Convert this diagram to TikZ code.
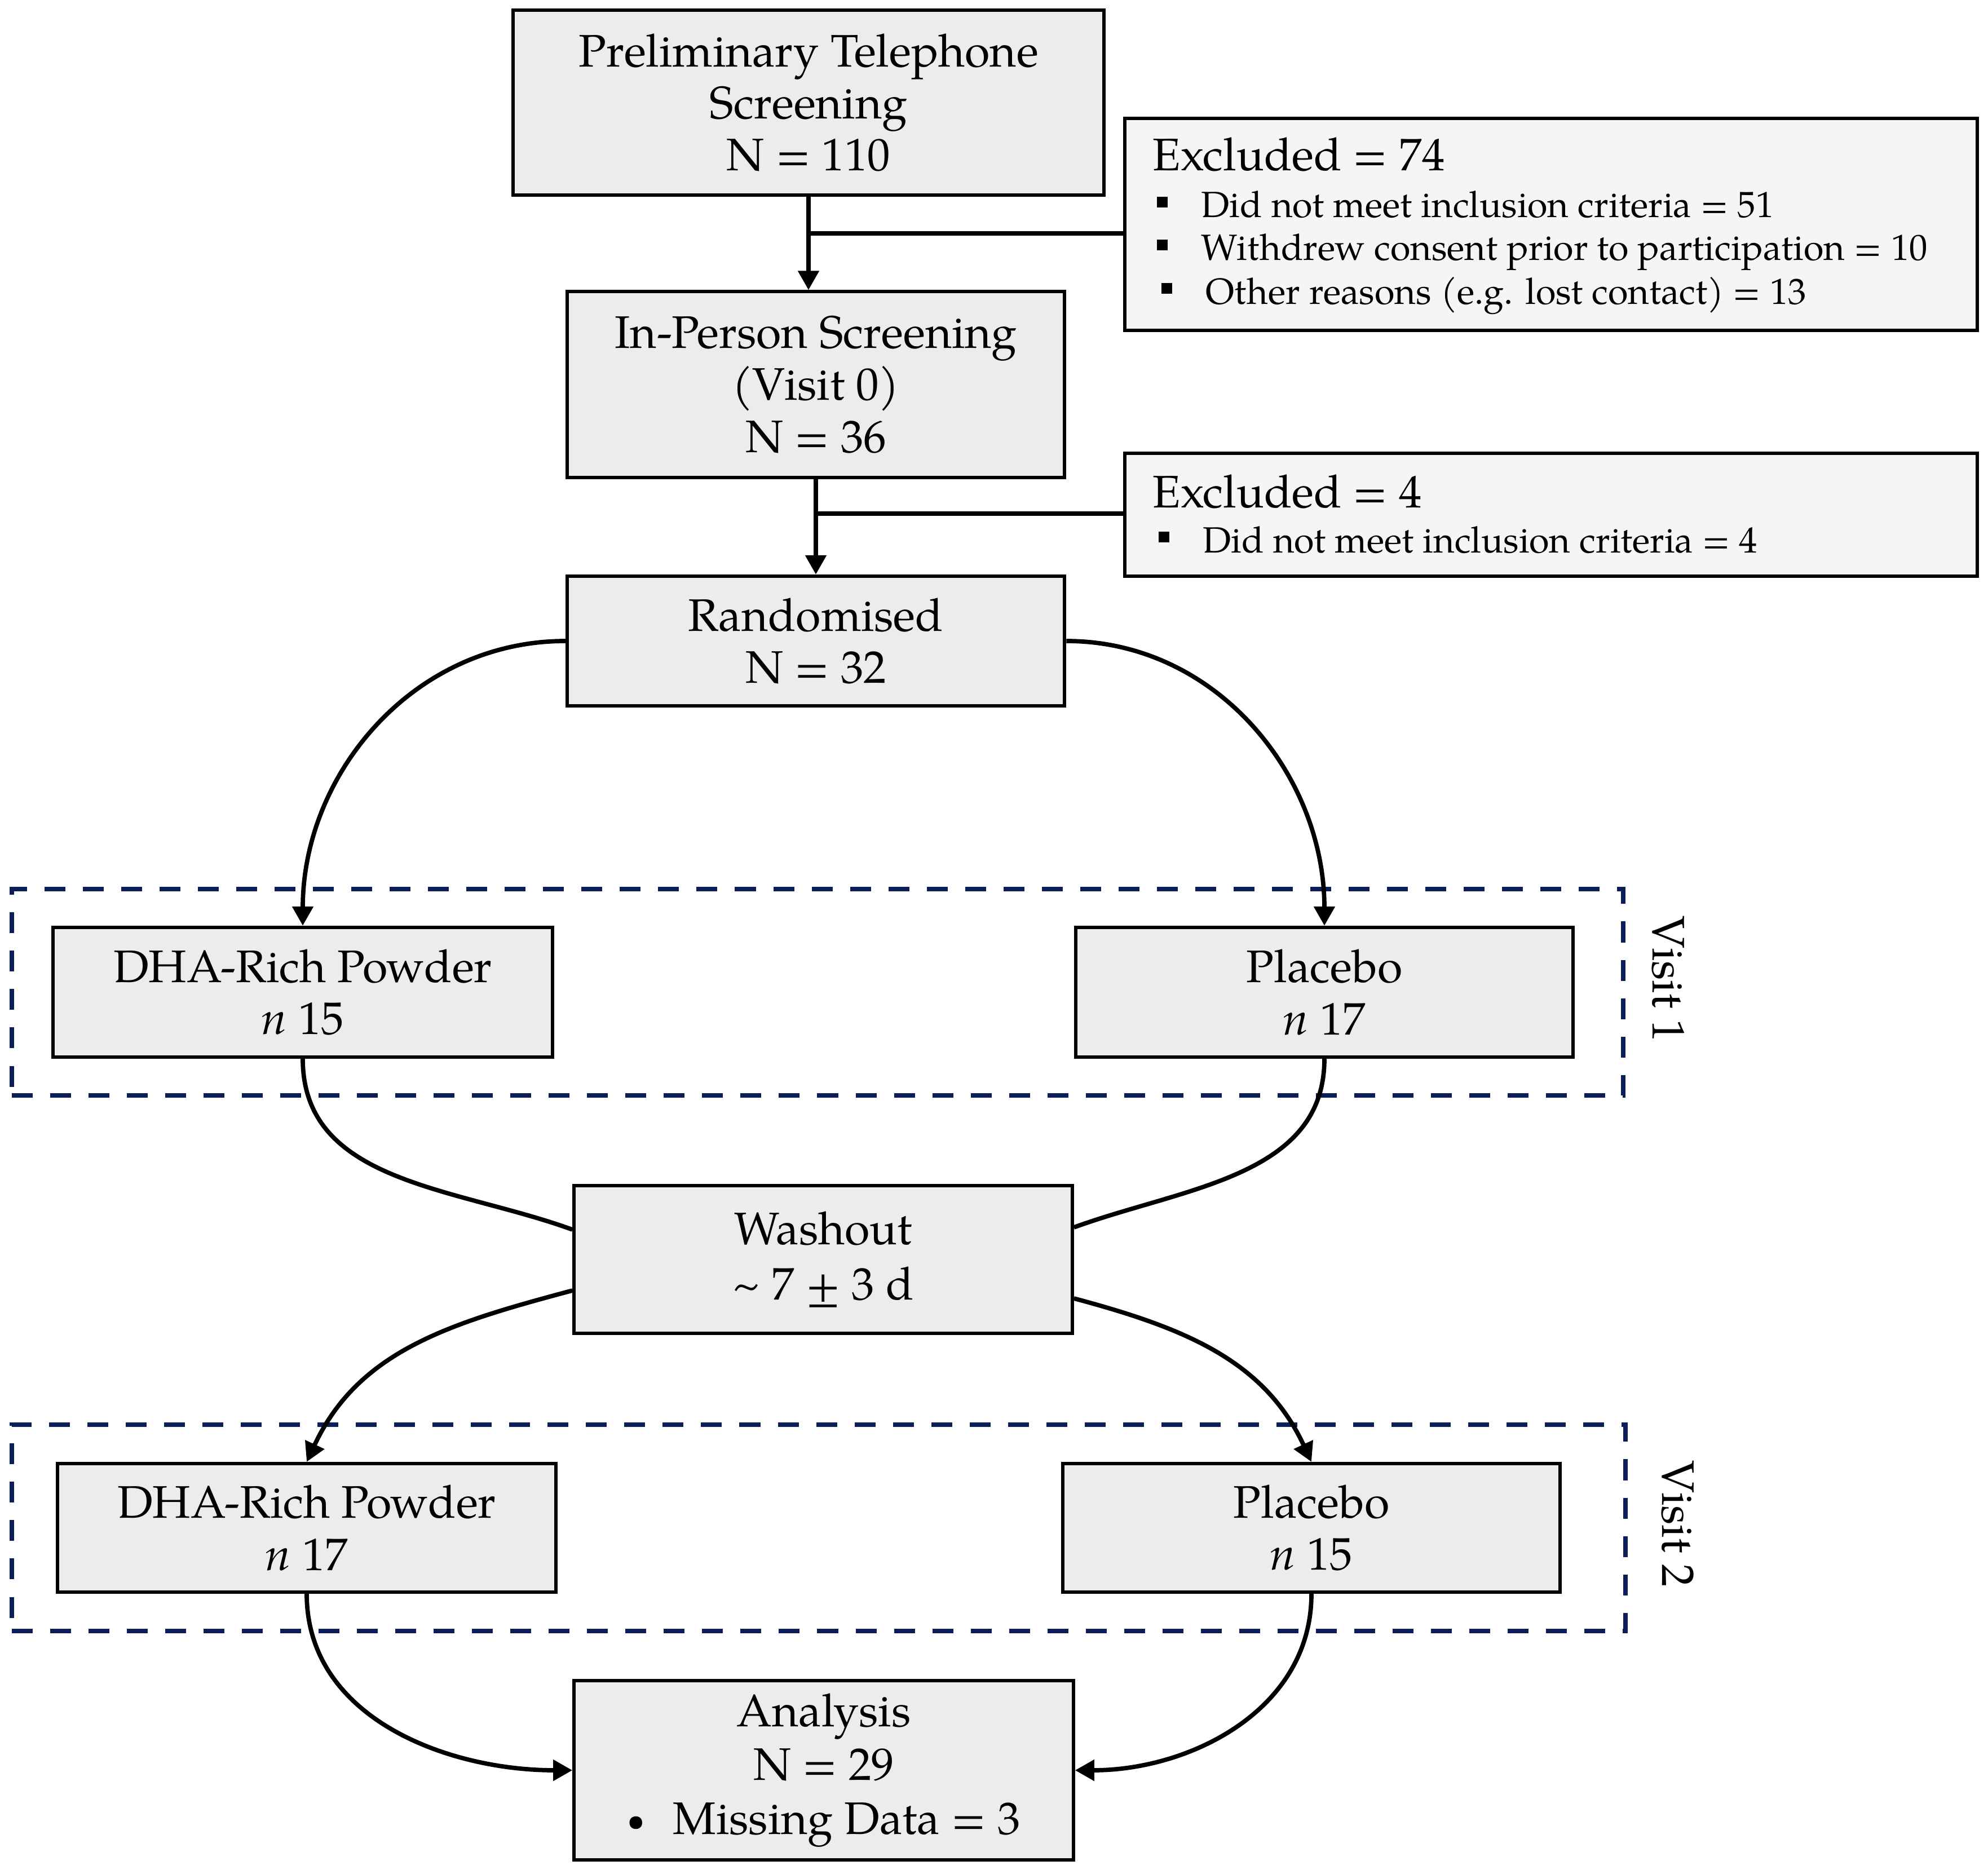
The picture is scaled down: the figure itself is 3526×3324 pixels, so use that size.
\documentclass[tikz,border=0pt]{standalone}
\usepackage{fontspec}
\setmainfont{TeX Gyre Pagella}
\usetikzlibrary{arrows.meta,calc}
\definecolor{boxgray}{RGB}{235,236,238}
\definecolor{exclgray}{RGB}{244,246,245}
\definecolor{visitblue}{RGB}{12,30,90}
\newcommand{\exsq}{\rule[0.18cm]{0.19cm}{0.19cm}\hspace{0.6cm}}
\newcommand{\smallbul}{\raisebox{0.06cm}{\fontsize{16}{16}\selectfont\textbullet}}
\begin{document}
\begin{tikzpicture}[x=0.01cm,y=0.01cm,
  mainbox/.style={draw=black, line width=1.7pt, fill=boxgray, align=center, inner sep=0pt,
    font=\fontsize{23}{26.2}\selectfont},
  exclbox/.style={draw=black, line width=1.7pt, fill=exclgray, inner sep=0pt},
  excltitle/.style={inner sep=0pt, anchor=base west, font=\fontsize{23}{26}\selectfont},
  exclitem/.style={inner sep=0pt, anchor=base west, font=\fontsize{18.4}{22}\selectfont},
  conn/.style={line width=2.2pt, draw=black},
  arr/.style={conn, -{Triangle[length=0.34cm,width=0.36cm]}},
  visitbox/.style={draw=visitblue, line width=2.3pt, dash pattern=on 0.37cm off 0.31cm, inner sep=0pt},
  visitlabel/.style={rotate=-90, inner sep=0pt, font=\fontsize{23}{26}\selectfont}
]
\useasboundingbox (0,0) rectangle (3526,-3324);

% visit frames
\node[visitbox, minimum width=28.57cm, minimum height=3.65cm] (v1) at (1450,-1760) {};
\node[visitbox, minimum width=28.61cm, minimum height=3.65cm] (v2) at (1452,-2710) {};
\node[visitlabel] (v1lab) at (2959,-1737) {Visit 1};
\node[visitlabel] (v2lab) at (2976,-2703) {Visit 2};

% main boxes
\node[mainbox, minimum width=10.47cm, minimum height=3.27cm] (screen) at (1434,-182) {Preliminary Telephone\\Screening\\N = 110};
\node[mainbox, minimum width=8.82cm, minimum height=3.29cm] (inperson) at (1447,-682) {In-Person Screening\\(Visit 0)\\N = 36};
\node[mainbox, minimum width=8.82cm, minimum height=2.30cm] (rand) at (1447,-1137) {Randomised\\N = 32};
\node[mainbox, minimum width=8.85cm, minimum height=2.30cm] (dha1) at (537,-1760) {DHA-Rich Powder\\\textit{n} 15};
\node[mainbox, minimum width=8.82cm, minimum height=2.30cm] (plac1) at (2349,-1760) {Placebo\\\textit{n} 17};
\node[mainbox, minimum width=8.83cm, minimum height=2.62cm, font=\fontsize{23}{28}\selectfont] (wash) at (1460,-2234) {Washout\\\textasciitilde\ 7 ± 3 d};
\node[mainbox, minimum width=8.84cm, minimum height=2.28cm] (dha2) at (544,-2710) {DHA-Rich Powder\\\textit{n} 17};
\node[mainbox, minimum width=8.82cm, minimum height=2.28cm] (plac2) at (2326,-2710) {Placebo\\\textit{n} 15};
\node[mainbox, minimum width=8.85cm, minimum height=3.18cm, font=\fontsize{23}{27.2}\selectfont] (anal) at (1461,-3140) {Analysis\\N = 29\\\smallbul\hspace{0.5cm}Missing Data = 3};

% excluded boxes
\node[exclbox, minimum width=15.12cm, minimum height=3.76cm] (excl1) at (2751,-398) {};
\node[excltitle] (e1t) at (2044,-303) {Excluded = 74};
\node[exclitem] (e1a) at (2051,-386) {\exsq Did not meet inclusion criteria = 51};
\node[exclitem] (e1b) at (2051,-462) {\exsq Withdrew consent prior to participation = 10};
\node[exclitem] (e1c) at (2059,-539) {\exsq Other reasons (e.g. lost contact) = 13};

\node[exclbox, minimum width=15.12cm, minimum height=2.18cm] (excl2) at (2751,-913) {};
\node[excltitle] (e2t) at (2044,-900) {Excluded = 4};
\node[exclitem] (e2a) at (2054,-980) {\exsq Did not meet inclusion criteria = 4};

% connectors
\draw[arr] (screen.south) -- (screen.south |- inperson.north);
\coordinate (br1) at (1437,-414);
\draw[conn] (br1) -- (br1 -| excl1.west);
\draw[arr] (inperson.south) -- (inperson.south |- rand.north);
\coordinate (br2) at (1447,-911);
\draw[conn] (br2) -- (br2 -| excl2.west);

\draw[arr] (rand.west) to[out=180,in=90] (dha1.north);
\draw[arr] (rand.east) to[out=0,in=90] (plac1.north);

\draw[conn] (dha1.south) to[out=-90,in=160] ($(wash.west)+(0,53)$);
\draw[conn] (plac1.south) to[out=-90,in=20] ($(wash.east)+(0,57)$);
\draw[arr] ($(wash.west)+(0,-55)$) to[out=195,in=65] (dha2.north);
\draw[arr] ($(wash.east)+(0,-69)$) to[out=-15,in=115] (plac2.north);

\draw[arr] (dha2.south) to[out=-90,in=180] (anal.west);
\draw[arr] (plac2.south) to[out=-90,in=0] (anal.east);
\end{tikzpicture}
\end{document}
